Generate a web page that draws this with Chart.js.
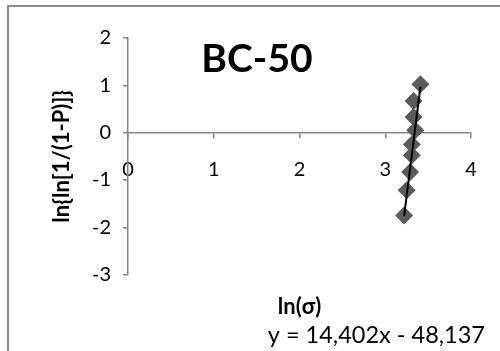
<!DOCTYPE html>
<html>
<head>
<meta charset="utf-8">
<script src="https://cdn.jsdelivr.net/npm/chart.js@4/dist/chart.umd.min.js"></script>
<style>
  html, body { margin: 0; padding: 0; background: #fff; }
  #wrap { position: relative; width: 500px; height: 351px; overflow: hidden; }
  #frame { position: absolute; left: 7px; top: 5px; width: 700px; height: 700px; border: 2px solid #8a8a8a; }
  #chart { position: absolute; left: 0; top: 0; }
</style>
</head>
<body>
<div id="wrap">
  <div id="frame"></div>
  <canvas id="chart" width="500" height="351"></canvas>
</div>
<script>
// ln(sigma) and ln(ln(1/(1-P))) for BC-50
const lnSigma = [3.41, 3.33, 3.33, 3.35, 3.31, 3.31, 3.29, 3.25, 3.22];
const lnLnP = [1.02, 0.67, 0.33, 0.05, -0.25, -0.48, -0.83, -1.22, -1.75];

// linear trendline  y = 14,402x - 48,137
const trendSlope = 14.402;
const trendIntercept = -48.137;
const trendFrom = 3.22;
const trendTo = 3.41;

const xMin = 0, xMax = 4;
const yMin = -3, yMax = 2;

const FONT = 'Lato';
const axisGray = '#868686';

const points = lnSigma.map((x, i) => ({ x: x, y: lnLnP[i] }));
const trend = [trendFrom, trendTo].map(x => ({ x: x, y: trendSlope * x + trendIntercept }));

const eqText = 'y = ' + trendSlope.toFixed(3).replace('.', ',') + 'x - ' +
  Math.abs(trendIntercept).toFixed(3).replace('.', ',');

const labelsPlugin = {
  id: 'labels',
  afterDraw(chart) {
    const ctx = chart.ctx;
    const a = chart.chartArea;
    ctx.save();
    ctx.fillStyle = '#000';
    ctx.textBaseline = 'middle';
    ctx.font = 'bold 39px ' + FONT;
    ctx.textAlign = 'center';
    ctx.fillText('BC-50', a.left + 129, a.top + 21);
    ctx.font = '23.5px ' + FONT;
    ctx.textAlign = 'right';
    ctx.fillText(eqText, a.right + 14, chart.height - 16);
    ctx.restore();
  }
};

const config = {
  type: 'scatter',
  data: {
    datasets: [
      {
        data: trend,
        showLine: true,
        borderColor: '#000',
        borderWidth: 2,
        pointRadius: 0,
        order: 0
      },
      {
        data: points,
        pointStyle: 'rectRot',
        pointRadius: 9,
        backgroundColor: '#5b5b5b',
        borderColor: '#5b5b5b',
        borderWidth: 0,
        order: 1
      }
    ]
  },
  options: {
    responsive: false,
    animation: false,
    layout: { padding: { left: 0, top: 38, right: 29, bottom: 31 } },
    plugins: {
      legend: { display: false },
      tooltip: { enabled: false }
    },
    scales: {
      x: {
        type: 'linear',
        min: xMin,
        max: xMax,
        position: { y: 0 },
        border: { color: axisGray, width: 1.5 },
        grid: { drawOnChartArea: false, color: axisGray, tickLength: 5, lineWidth: 1.5 },
        ticks: { stepSize: 1, padding: 20, color: '#000', font: { family: FONT, size: 20 } }
      },
      x2: {
        type: 'linear',
        position: 'bottom',
        grid: { display: false },
        border: { display: false },
        ticks: { display: false },
        title: {
          display: true,
          text: 'ln(σ)',
          color: '#000',
          font: { family: FONT, size: 22, weight: 'bold' },
          padding: { top: 11, bottom: 0 }
        }
      },
      y: {
        type: 'linear',
        min: yMin,
        max: yMax,
        position: 'left',
        afterFit(scale) { scale.width = 128; },
        border: { color: axisGray, width: 1.5 },
        grid: { drawOnChartArea: false, color: axisGray, tickLength: 5, lineWidth: 1.5 },
        ticks: { stepSize: 1, padding: 12, color: '#000', font: { family: FONT, size: 20 } },
        title: {
          display: true,
          text: 'ln{ln[1/(1-P)]}',
          color: '#000',
          font: { family: FONT, size: 22, weight: 'bold' },
          padding: { top: 49, bottom: 0 }
        }
      }
    }
  },
  plugins: [labelsPlugin]
};

const chart = new Chart(document.getElementById('chart').getContext('2d'), config);
</script>
</body>
</html>
